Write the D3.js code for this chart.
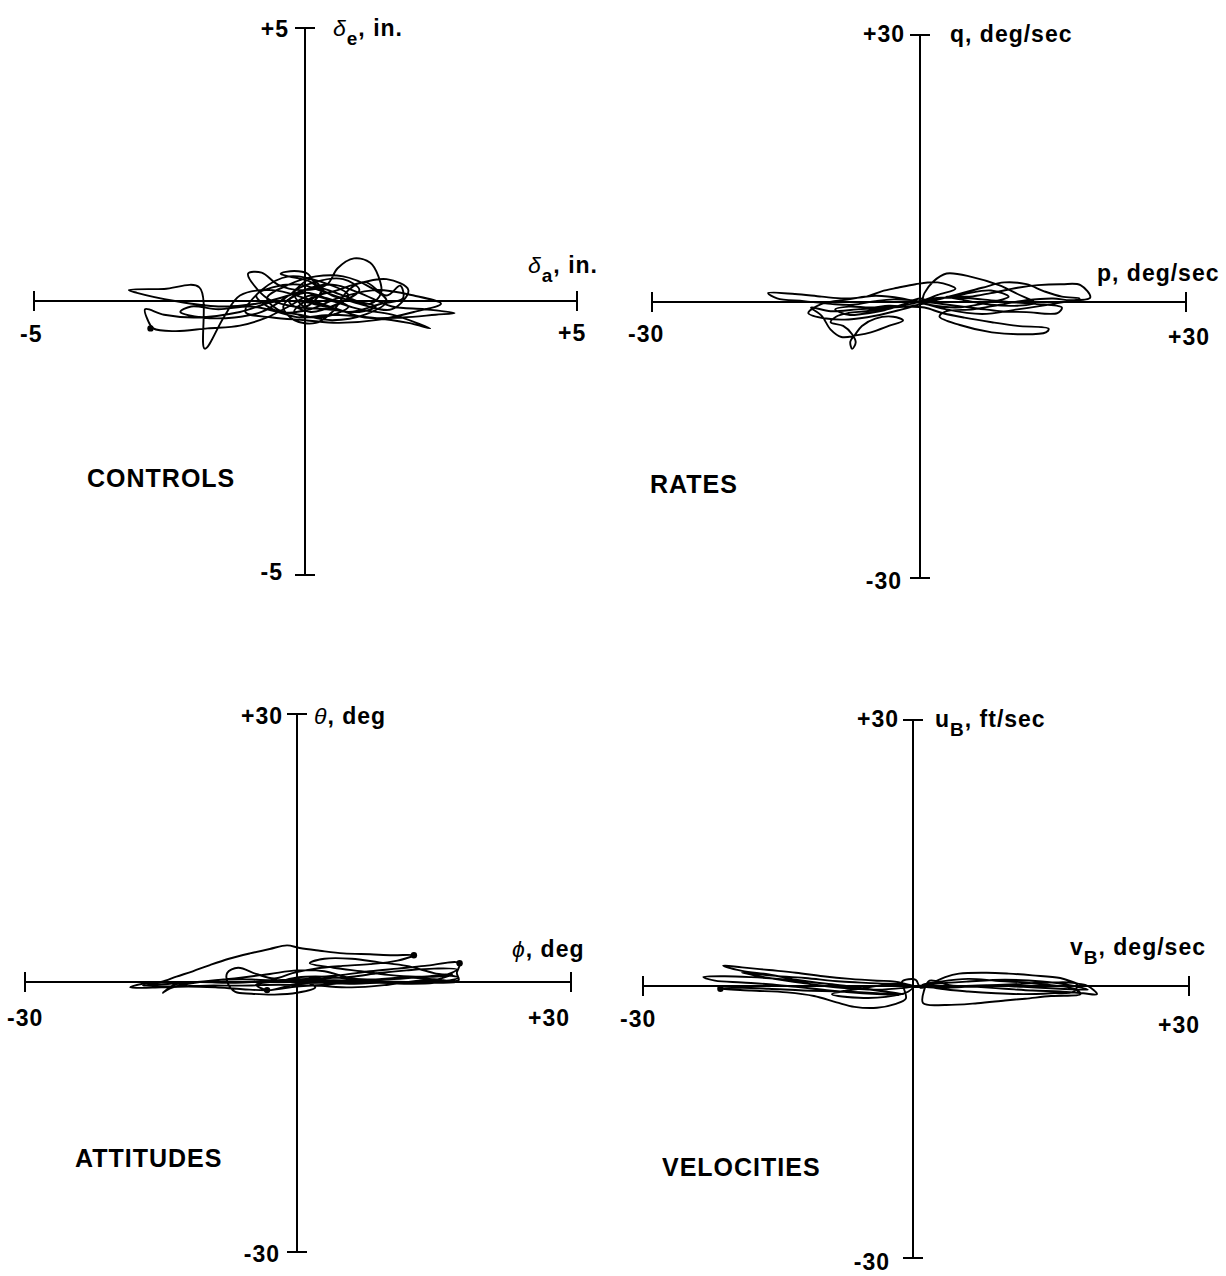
<html lang="en">
<head>
<meta charset="UTF-8">
<title>Phase plots</title>
<style>
  body { margin: 0; background: #fff; }
  svg { display: block; }
  .axis { stroke: #000; stroke-width: 2; fill: none; }
  .trace { stroke: #000; stroke-width: 1.9; fill: none; stroke-linejoin: round; stroke-linecap: round; }
  text { font-family: "Liberation Sans", Arial, Helvetica, sans-serif; font-weight: bold; font-size: 23px; letter-spacing: 1px; fill: #000; }
  text.title { font-size: 25px; }
  tspan.greek { font-style: italic; font-weight: normal; }
</style>
</head>
<body>
<svg id="chart" width="1226" height="1276"></svg>
<script src="https://cdnjs.cloudflare.com/ajax/libs/d3/7.8.5/d3.min.js"></script>
<script>
// axis limits (data units)
var controlsMax = 5, ratesMax = 30, attitudesMax = 30, velocitiesMax = 30;

// end tick labels: [left, right, bottom, top]
var controlsTicks = ["-5", "+5", "-5", "+5"];
var ratesTicks = ["-30", "+30", "-30", "+30"];
var attitudesTicks = ["-30", "+30", "-30", "+30"];
var velocitiesTicks = ["-30", "+30", "-30", "+30"];

var panelTitles = ["CONTROLS", "RATES", "ATTITUDES", "VELOCITIES"];

// traces: [horizontal, vertical]
var controlsTrace = [
  [0.0,0.0],[0.3,0.15],[0.1,0.35],[-0.3,0.45],[-0.45,0.5],[-0.2,0.55],[0.05,0.5],[0.2,0.3],[0.5,0.1],[0.9,0.0],
  [1.3,-0.1],[1.0,-0.2],[0.4,-0.15],[-0.2,-0.1],[-0.7,0.05],[-1.05,0.5],[-0.8,0.52],[-0.5,0.3],[-0.1,0.2],[0.4,0.3],
  [0.6,0.6],[0.9,0.78],[1.2,0.7],[1.35,0.45],[1.4,0.15],[1.2,-0.05],[0.7,0.1],[0.2,0.25],[-0.3,0.1],[-0.9,-0.05],
  [-1.6,-0.1],[-2.4,0.0],[-3.1,0.15],[-3.25,0.2],[-2.6,0.22],[-1.95,0.25],[-1.85,-0.87],[-1.5,-0.3],[-1.2,0.1],[-0.6,0.2],
  [0.0,0.05],[0.6,-0.15],[1.1,-0.3],[1.8,-0.3],[2.4,-0.25],[2.75,-0.22],[2.2,-0.15],[1.6,-0.1],[1.0,0.15],[0.5,0.3],
  [0.0,0.2],[-0.4,-0.1],[-0.2,-0.35],[0.2,-0.4],[0.5,-0.2],[0.8,0.2],[1.1,0.35],[1.5,0.1],[1.75,0.28],[1.8,0.05],
  [1.4,-0.05],[0.8,-0.2],[0.2,-0.05],[-0.5,0.0],[-1.2,-0.2],[-2.0,-0.3],[-2.6,-0.25],[-2.95,-0.15],[-2.9,-0.35],[-2.8,-0.5],
  [-2.4,-0.55],[-1.8,-0.5],[-1.2,-0.45],[-0.7,-0.3],[-0.3,-0.1],[0.1,0.1],[0.5,0.0],[1.0,-0.15],[1.6,-0.25],[2.3,-0.5],
  [1.9,-0.4],[1.2,-0.3],[0.5,-0.25],[-0.1,-0.3],[-0.5,-0.2],[-1.0,-0.1],[-1.6,-0.15],[-2.1,-0.1],[-2.3,-0.2],[-1.9,-0.3],
  [-1.3,-0.3],[-0.8,-0.2],[-0.3,0.1],[0.1,0.4],[0.3,0.2],[0.0,-0.1],[-0.2,0.15],[0.2,0.35],[0.7,0.4],[1.0,0.2],
  [0.6,-0.05],[0.1,-0.2],[-0.3,0.0],[0.0,0.15],[0.4,0.05],[0.8,-0.1],[0.3,-0.3],[-0.2,-0.2],[0.1,0.05],[0.6,0.2],
  [0.9,0.3],[1.5,0.4],[1.9,0.2],[1.6,-0.15],[1.0,-0.05],[0.4,0.15],[-0.1,0.3],[-0.6,0.25],[-0.9,0.1],[-0.6,-0.15],
  [-0.1,-0.25],[0.5,-0.35],[1.1,-0.25],[1.5,0.0],[1.2,0.25],[0.7,0.45],[0.2,0.45],[-0.3,0.3],[-0.7,0.05],[-0.4,-0.2],
  [0.1,-0.15],[0.6,0.05],[1.3,0.2],[2.0,0.1],[2.5,-0.05],[2.0,-0.2],[1.3,-0.35],[0.6,-0.4],[0.0,-0.35],[-0.6,-0.3],
  [-1.1,-0.2],[-0.8,0.2],[-0.3,0.45],[0.3,0.35],[0.8,0.1],[0.5,-0.1],[0.0,0.0]
];
var ratesTrace = [
  [0,0],[2,0.8],[4,1.5],[2,2.2],[-0.5,2.0],[-2.5,1.6],[-4.3,1.2],[-6,0.6],[-8.5,0.4],[-11,0.6],
  [-14,0.9],[-17,1.0],[-16,0.4],[-13,0.1],[-10,-0.2],[-7.5,-0.3],[-5,0.1],[-3,0.3],[-1,0.2],[1.5,-0.1],
  [4,-0.4],[6.5,-0.7],[9,-1.0],[12,-1.1],[15.5,-1.2],[16,-0.6],[13,-0.2],[10,0.0],[7,0.3],[4,0.5],
  [1.5,0.4],[-1,-0.2],[-4,-0.6],[-7,-0.8],[-10,-1.0],[-12.2,-0.6],[-11,-1.5],[-10,-3.0],[-8.8,-3.8],[-7,-3.6],
  [-5.5,-3.3],[-3.5,-2.6],[-1.9,-2.0],[-3,-1.6],[-5,-1.8],[-6.5,-2.6],[-7.3,-3.6],[-7.8,-4.3],[-7.6,-5.1],[-7.2,-4.4],
  [-7.6,-3.5],[-8.6,-2.6],[-10,-2.2],[-9.4,-1.6],[-8,-1.2],[-6,-1.0],[-3,-0.6],[0,-0.2],[0.5,1.0],[1.5,2.3],
  [3,3.2],[5.9,2.8],[8.9,1.9],[11,0.9],[13,-0.1],[11,-0.4],[8,-0.3],[5,0.2],[3,0.6],[5.6,0.6],
  [8,1.0],[11,1.6],[13.3,1.9],[16,2.0],[18.1,1.9],[19.2,0.5],[17,0.2],[15,0.4],[12,0.2],[9,-0.3],
  [6,-0.8],[3,-1.0],[2.2,-1.6],[4.5,-2.5],[8.1,-3.3],[11,-3.5],[14.2,-3.3],[14.5,-2.9],[11,-2.6],[8.1,-2.2],
  [5,-1.7],[2.5,-1.2],[0.5,-0.6],[-1.5,-0.5],[-3.5,-0.4],[-5.5,-0.6],[-8,-0.5],[-9.5,-0.8],[-8,-1.4],[-6.5,-1.3],
  [-4,-0.9],[-2,-0.3],[0,0.4],[1,0.1],[2,0.3],[5,0.9],[8,1.3],[10,0.6],[7,-0.2],[4,-0.6],
  [1,-0.3],[-2,0.4],[-5,0.7],[-8,0.3],[-11,-0.2],[-12.5,-1.2],[-10.5,-1.8],[-8,-1.9],[-5,-1.5],[-2,-0.8],
  [1,0.0],[4,0.8],[7,1.6],[9.5,2.2],[12,2.0],[14,1.2],[16,0.6],[18,0.4],[15,-0.2],[11,-0.8],
  [7,-1.3],[3,-0.8],[0,0]
];
var attitudesTrace = [
  [0,0],[2,0.5],[5,0.8],[8,1.2],[11,1.5],[14,1.8],[17.8,2.1],[17.5,1.0],[17.7,0.2],[15,0.3],
  [12,0.5],[9,0.3],[6,0.0],[3,-0.3],[0,-0.5],[-3,-0.9],[-6,-0.8],[-9,-0.6],[-12,-0.5],[-15,-0.6],
  [-18.4,-0.6],[-17,-0.2],[-15,0.0],[-13.3,0.6],[-11.5,1.2],[-9.6,1.9],[-7.5,2.6],[-5.2,3.2],[-3,3.7],[-1.1,4.1],
  [0.3,3.8],[2.5,3.5],[5.1,3.2],[8,3.1],[10.5,3.0],[12.8,3.0],[11,2.4],[8,2.0],[5,1.8],[2,1.5],
  [-0.5,1.0],[-2.5,0.4],[-4.5,0.9],[-6.5,1.6],[-7.7,1.0],[-7.6,-0.2],[-6.8,-1.1],[-5.0,-1.3],[-2.5,-1.4],[0,-1.2],
  [2,-0.6],[0.5,0.2],[-2,0.2],[-5,0.0],[-8,-0.1],[-11,0.0],[-13.5,-0.3],[-14.8,-1.2],[-14.0,-0.7],[-12,-0.2],
  [-9,0.2],[-6,0.3],[-3,0.2],[0,0.3],[3,0.4],[6,0.6],[9,1.0],[12,1.3],[15,1.5],[17.5,1.4],
  [16,0.7],[13,0.6],[10,0.8],[7,1.2],[4,1.6],[1.4,2.1],[3,2.6],[6,2.6],[9,2.2],[12,1.8],
  [15,1.0],[17.7,0.5],[15,-0.1],[12,-0.2],[9,-0.1],[6,-0.2],[3,-0.1],[0,-0.2],[-3.3,-0.9],[-4.5,-0.3],
  [-3,0.0],[0,0.1],[4,0.2],[8,0.1],[12,0.0],[16,-0.1],[17.5,0.0],[14,0.2],[10,-0.3],[6,-0.6],
  [2,-0.4],[-2,-0.3],[-6,-0.4],[-10,-0.4],[-14,-0.5],[-17,-0.4],[-14,-0.2],[-10,0.1],[-6,0.5],[-3,0.9],
  [0,1.3],[3,1.2],[6,0.4],[10,0.3],[14,0.6],[17,0.9],[15,0.2],[11,-0.1],[7,0.2],[3,0.6],
  [0,0.5],[-2,0.0]
];
var velocitiesTrace = [
  [0,0],[-2,0.5],[-4,0.6],[-7,0.8],[-10,1.1],[-13,1.5],[-16,1.8],[-19,2.1],[-21.1,2.3],[-19,1.7],
  [-16,1.3],[-13,0.7],[-10,0.3],[-7,-0.1],[-4,-0.5],[-1.1,-0.9],[-3,-0.6],[-6,-0.2],[-9,0.2],[-12,0.5],
  [-15,0.8],[-18,1.0],[-21,1.1],[-23.3,1.0],[-22,0.6],[-19,0.4],[-16,0.2],[-13,-0.1],[-10,-0.4],[-7,-0.7],
  [-4,-0.9],[-1.5,-1.0],[-4,-0.8],[-8,-0.6],[-12.2,-0.5],[-16,-0.3],[-19,-0.2],[-21.4,-0.3],[-18,-0.5],[-14,-0.7],
  [-11,-1.1],[-8.5,-1.8],[-6.5,-2.3],[-4,-2.4],[-2,-2.0],[-0.8,-1.4],[-1,-0.3],[-1.2,0.5],[0.3,0.7],[0.8,-0.2],
  [2,0.3],[3.5,1.0],[5,1.4],[8,1.5],[10.4,1.4],[13,1.2],[16,0.9],[17.8,0.3],[19,0.0],[20,-0.9],
  [18.5,-0.8],[16,-0.6],[13,-0.5],[10,-0.3],[7,-0.1],[4,0.1],[1.8,0.6],[1.2,-0.5],[1.1,-1.9],[3.5,-2.1],
  [7,-1.9],[10,-1.6],[12.2,-1.4],[15,-1.1],[18.2,-0.9],[17.5,-0.3],[15,0.1],[12,0.4],[9,0.6],[6,0.8],
  [3,0.5],[1,0.1],[3,-0.3],[6,-0.6],[9,-0.8],[12,-0.9],[15,-0.8],[17.5,-0.6],[17.8,0.2],[15,0.4],
  [11,0.2],[7,0.0],[3,-0.2],[0,0.0],[-3,0.1],[-6,-0.3],[-9,-0.9],[-6,-1.3],[-3,-1.2],[-0.5,-0.6],
  [0,0],[-4,0.3],[-8,0.5],[-12,0.9],[-16,1.2],[-19,1.5],[-16,0.9],[-12,0.3],[-8,-0.2],[-4,-0.4],
  [-1,-0.2],[2,0.2],[6,0.5],[10,0.7],[14,0.5],[17,0.1],[19,-0.4],[16,-0.3],[12,-0.1],[8,0.1],
  [4,-0.1],[0,-0.1]
];

// small dots on the traces
var controlsDots = [[-2.85,-0.5]];
var ratesDots = [];
var attitudesDots = [[12.8,3.0],[17.8,2.1],[-3.3,-0.9]];
var velocitiesDots = [[-21.4,-0.3]];

// page layout of each panel (pixels)
var panels = [
  { max: controlsMax, ticks: controlsTicks, trace: controlsTrace, dots: controlsDots, title: panelTitles[0],
    left: 34, right: 577, vx: 305, top: 28, bottom: 575, hy: 301,
    titlePos: [87, 487],
    vLabel: { x: 333, y: 36, parts: [["δ", "greek"], ["e", "sub"], [", in.", ""]] },
    hLabel: { x: 528, y: 273, parts: [["δ", "greek"], ["a", "sub"], [", in.", ""]] },
    leftPos: [20, 342], rightPos: [558, 341], bottomPos: [283, 580], topPos: [289, 37] },
  { max: ratesMax, ticks: ratesTicks, trace: ratesTrace, dots: ratesDots, title: panelTitles[1],
    left: 652, right: 1186, vx: 920, top: 35, bottom: 578, hy: 302,
    titlePos: [650, 493],
    vLabel: { x: 950, y: 42, parts: [["q, deg/sec", ""]] },
    hLabel: { x: 1097, y: 281, parts: [["p, deg/sec", ""]] },
    leftPos: [628, 342], rightPos: [1168, 345], bottomPos: [902, 589], topPos: [905, 42] },
  { max: attitudesMax, ticks: attitudesTicks, trace: attitudesTrace, dots: attitudesDots, title: panelTitles[2],
    left: 25, right: 571, vx: 297, top: 714, bottom: 1252, hy: 982,
    titlePos: [75, 1167],
    vLabel: { x: 314, y: 724, parts: [["θ", "greek"], [", deg", ""]] },
    hLabel: { x: 512, y: 957, parts: [["ϕ", "greek"], [", deg", ""]] },
    leftPos: [7, 1026], rightPos: [528, 1026], bottomPos: [280, 1262], topPos: [283, 724] },
  { max: velocitiesMax, ticks: velocitiesTicks, trace: velocitiesTrace, dots: velocitiesDots, title: panelTitles[3],
    left: 643, right: 1189, vx: 913, top: 720, bottom: 1258, hy: 986,
    titlePos: [662, 1176],
    vLabel: { x: 935, y: 727, parts: [["u", ""], ["B", "sub"], [", ft/sec", ""]] },
    hLabel: { x: 1070, y: 955, parts: [["v", ""], ["B", "sub"], [", deg/sec", ""]] },
    leftPos: [620, 1027], rightPos: [1158, 1033], bottomPos: [890, 1270], topPos: [899, 727] }
];

var svg = d3.select("#chart");

function label(g, spec) {
  var t = g.append("text").attr("x", spec.x).attr("y", spec.y);
  var shifted = false;
  spec.parts.forEach(function (p) {
    var ts = t.append("tspan").text(p[0]);
    if (p[1] === "greek") ts.attr("class", "greek");
    if (p[1] === "sub") { ts.attr("dy", 9).style("font-size", "19px"); shifted = true; }
    else if (shifted) { ts.attr("dy", -9); shifted = false; }
  });
}

panels.forEach(function (p) {
  var m = p.max;
  var x = d3.scaleLinear().domain([-m, 0, m]).range([p.left, p.vx, p.right]);
  var y = d3.scaleLinear().domain([-m, 0, m]).range([p.bottom, p.hy, p.top]);
  var g = svg.append("g");

  // axes with end ticks
  g.append("line").attr("class", "axis")
    .attr("x1", x(-m)).attr("x2", x(m)).attr("y1", y(0)).attr("y2", y(0));
  g.append("line").attr("class", "axis")
    .attr("x1", x(0)).attr("x2", x(0)).attr("y1", y(m)).attr("y2", y(-m));
  [-m, m].forEach(function (v) {
    g.append("line").attr("class", "axis")
      .attr("x1", x(v)).attr("x2", x(v)).attr("y1", y(0) - 10).attr("y2", y(0) + 10);
    g.append("line").attr("class", "axis")
      .attr("x1", x(0) - 10).attr("x2", x(0) + 10).attr("y1", y(v)).attr("y2", y(v));
  });

  // trace
  var line = d3.line()
    .x(function (d) { return x(d[0]); })
    .y(function (d) { return y(d[1]); })
    .curve(d3.curveCatmullRom.alpha(0.5));
  g.append("path").attr("class", "trace").attr("d", line(p.trace));
  g.selectAll("circle").data(p.dots).enter().append("circle")
    .attr("cx", function (d) { return x(d[0]); })
    .attr("cy", function (d) { return y(d[1]); })
    .attr("r", 3.2).attr("fill", "#000");

  // tick labels
  g.append("text").attr("x", p.leftPos[0]).attr("y", p.leftPos[1]).text(p.ticks[0]);
  g.append("text").attr("x", p.rightPos[0]).attr("y", p.rightPos[1]).text(p.ticks[1]);
  g.append("text").attr("x", p.bottomPos[0]).attr("y", p.bottomPos[1]).attr("text-anchor", "end").text(p.ticks[2]);
  g.append("text").attr("x", p.topPos[0]).attr("y", p.topPos[1]).attr("text-anchor", "end").text(p.ticks[3]);

  label(g, p.vLabel);
  label(g, p.hLabel);

  g.append("text").attr("class", "title").attr("x", p.titlePos[0]).attr("y", p.titlePos[1]).text(p.title);
});
</script>
</body>
</html>
